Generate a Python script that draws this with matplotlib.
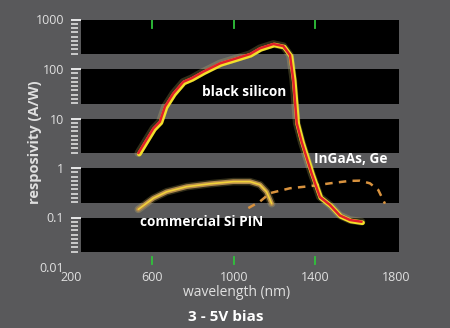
import numpy as np
import matplotlib.pyplot as plt
import matplotlib.patheffects as pe
from matplotlib.ticker import FixedLocator, NullFormatter
from matplotlib.transforms import blended_transform_factory

plt.rcParams['font.family'] = ['Open Sans', 'DejaVu Sans']

# black silicon responsivity
bs_wl = [531, 605, 637, 662, 703, 752, 793, 850, 933, 1015, 1080, 1129, 1195,
         1244, 1277, 1293, 1310, 1334, 1383, 1424, 1473, 1522, 1572, 1629]
bs_resp = [2.0, 6.3, 8.6, 17.4, 32, 55, 65, 88, 130, 165, 200, 262, 320,
           290, 190, 60, 8.1, 3.4, 0.78, 0.26, 0.18, 0.11, 0.089, 0.082]

# commercial Si PIN
pin_wl = [531, 605, 670, 769, 883, 998, 1080, 1129, 1162, 1187]
pin_resp = [0.146, 0.245, 0.33, 0.42, 0.48, 0.53, 0.53, 0.46, 0.33, 0.19]

# InGaAs, Ge
ing_wl = [1072, 1129, 1178, 1277, 1375, 1473, 1572, 1621, 1670, 1711, 1744]
ing_resp = [0.155, 0.21, 0.31, 0.39, 0.43, 0.49, 0.55, 0.555, 0.49, 0.36, 0.19]

xticks = [200, 600, 1000, 1400, 1800]
green_ticks = [600, 1000, 1400]
yticks = [0.01, 0.1, 1, 10, 100, 1000]
ylabels = ['0.01', '0.1', '1', '10', '100', '1000']

bg = '#59595b'
txt = '#e0e0e0'

fig = plt.figure(figsize=(4.5, 3.28), dpi=100, facecolor=bg)
ax = fig.add_axes([71 / 450, 1 - 267 / 328, 328 / 450, (267 - 19.5) / 328])
ax.set_facecolor(bg)
ax.set_yscale('log')
ax.set_xlim(200, 1813)
ax.set_ylim(0.01, 1000)
for s in ax.spines.values():
    s.set_visible(False)

# black bands, one per decade
band_x0 = (249 - 200) / (1813 - 200)
for d in range(-2, 3):
    ax.axhspan(2 * 10.0 ** d, 10.0 ** (d + 1), xmin=band_x0, xmax=1,
               color='black', lw=0, zorder=0)

# y ticks
ax.set_yticks(yticks)
ax.set_yticklabels(ylabels)
minors = []
for d in range(-1, 4):
    for k in range(1, 9):
        minors.append(10 ** (d - k * 0.69 / 8))
ax.yaxis.set_minor_locator(FixedLocator(minors))
ax.yaxis.set_minor_formatter(NullFormatter())
ax.tick_params(axis='y', which='major', direction='in', length=7, width=1.3,
               color='#f4f4f4', labelcolor=txt, labelsize=9, pad=5)
ax.tick_params(axis='y', which='minor', direction='in', length=5, width=1.1,
               color='#eaeaea')
ax.yaxis.get_major_ticks()[0].tick1line.set_visible(False)

# x ticks
ax.set_xticks(xticks)
ax.set_xticklabels([str(t) for t in xticks])
ax.tick_params(axis='x', which='major', length=0, labelcolor=txt, labelsize=9, pad=3)
trans = blended_transform_factory(ax.transData, ax.transAxes)
for t in green_ticks:
    ax.plot([t, t], [1.0, 0.965], color='#2fc43a', lw=1.3, transform=trans, zorder=3)
    ax.plot([t, t], [0.04, 0.012], color='#2fc43a', lw=1.3, transform=trans, zorder=3)

# curves
ax.plot(pin_wl, pin_resp, color='#f5e27a', lw=5.5, alpha=0.2, solid_capstyle='round', zorder=2)
ax.plot(pin_wl, pin_resp, color='#b48a4c', lw=3.4, solid_capstyle='round', zorder=2)
ax.plot(pin_wl, pin_resp, color='#f2d23a', lw=1.2, solid_capstyle='round', zorder=2)

ax.plot(ing_wl, ing_resp, color='#d8923e', lw=1.8, ls=(0, (3, 2.5)), zorder=2)

ax.plot(bs_wl, bs_resp, color='#f5ea80', lw=5.5, alpha=0.2, solid_capstyle='round', zorder=3)
ax.plot(bs_wl, bs_resp, color='#f2e02a', lw=3.4, solid_capstyle='round', zorder=3,
        path_effects=[pe.Stroke(offset=(0.7, -0.7), linewidth=3.4, foreground='#f2e02a')])
ax.plot(bs_wl, bs_resp, color='#e0202a', lw=1.8, solid_capstyle='round', zorder=4)

ax.text(1050, 34, 'black silicon', color='white', fontsize=9.8, fontweight='bold',
        ha='center', va='center')
ax.text(1575, 1.5, 'InGaAs, Ge', color='white', fontsize=9.8, fontweight='bold',
        ha='center', va='center')
ax.text(844, 0.081, 'commercial Si PIN', color='white', fontsize=9.8, fontweight='bold',
        ha='center', va='center')

fig.text(35 / 450, 1 - 142 / 328, 'resposivity (A/W)', color=txt, fontsize=10.5,
         fontweight='bold', rotation=90, ha='center', va='center')
fig.text(237 / 450, 1 - 292 / 328, 'wavelength (nm)', color=txt, fontsize=10,
         ha='center', va='center')
fig.text(226 / 450, 1 - 317 / 328, '3 - 5V bias', color='white', fontsize=11,
         fontweight='bold', ha='center', va='center')

fig.savefig('out.png', dpi=100, facecolor=bg)
